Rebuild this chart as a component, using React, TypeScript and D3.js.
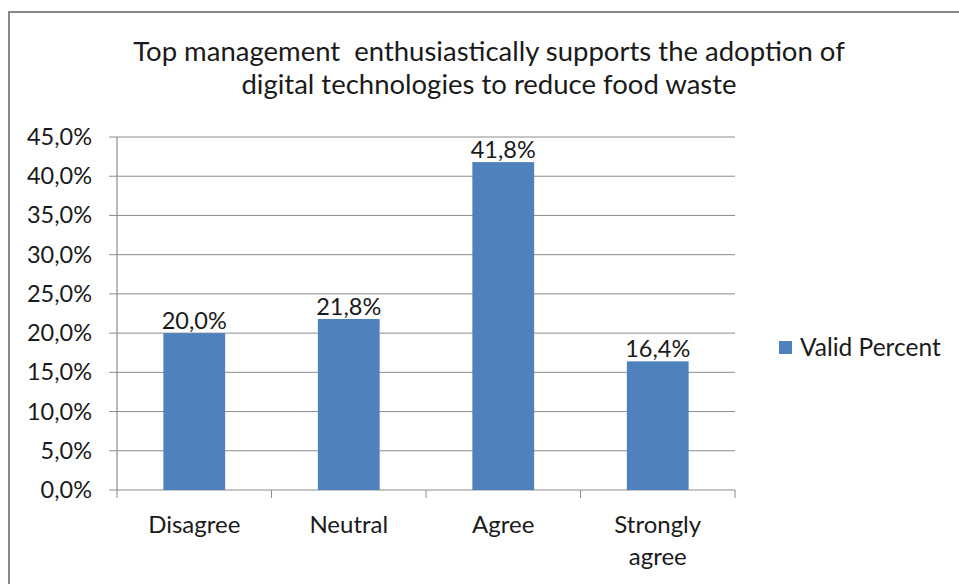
import React from "react";
import * as d3 from "d3";

const categories = ["Disagree", "Neutral", "Agree", "Strongly agree"];
const values = [20.0, 21.8, 41.8, 16.4];
const yTicks = [0, 5, 10, 15, 20, 25, 30, 35, 40, 45];
const titleLines = [
  "Top management  enthusiastically supports the adoption of",
  "digital technologies to reduce food waste",
];
const seriesName = "Valid Percent";

const W = 959;
const H = 584;
const FONT = "Lato, 'Open Sans', sans-serif";
const BAR = "#4F81BD";
const GRID = "#8c8c8c";
const TXT = "#1a1a1a";

const fmt = (v: number) => v.toFixed(1).replace(".", ",") + "%";

export default function App() {
  const x = d3.scaleBand<string>().domain(categories).range([117, 735]).paddingInner(0.6).paddingOuter(0.3);
  const xb = d3.scaleBand<string>().domain(categories).range([117, 735]);
  const y = d3.scaleLinear().domain([0, 45]).range([490, 137]);

  return (
    <svg width={W} height={H} style={{ position: "fixed", left: 0, top: 0, background: "#fff" }} fontFamily={FONT}>
      <rect x={9} y={12} width={W + 20} height={H + 20} fill="#fff" stroke="#888" strokeWidth={2} />
      {titleLines.map((t, i) => (
        <text key={i} x={489} y={61 + i * 33} textAnchor="middle" fontSize={27.5} fill={TXT} style={{ whiteSpace: "pre" }}>
          {t}
        </text>
      ))}
      {yTicks.map((t) => (
        <g key={t}>
          <line x1={109} x2={735} y1={y(t)} y2={y(t)} stroke={GRID} strokeWidth={1} />
          <text x={92} y={y(t) + 8} textAnchor="end" fontSize={23.5} fill={TXT}>
            {fmt(t)}
          </text>
        </g>
      ))}
      <line x1={117} x2={117} y1={y(45)} y2={y(0)} stroke={GRID} strokeWidth={1.2} />
      {categories.map((c, i) => (
        <line key={"t" + i} x1={(xb(c) as number) + xb.bandwidth()} x2={(xb(c) as number) + xb.bandwidth()} y1={y(0)} y2={y(0) + 8} stroke={GRID} />
      ))}
      <line x1={117} x2={117} y1={y(0)} y2={y(0) + 8} stroke={GRID} />
      {categories.map((c, i) => (
        <g key={c}>
          <rect x={x(c)} y={y(values[i])} width={x.bandwidth()} height={y(0) - y(values[i])} fill={BAR} />
          <text x={(x(c) as number) + x.bandwidth() / 2} y={y(values[i]) - 4} textAnchor="middle" fontSize={23.5} fill={TXT}>
            {fmt(values[i])}
          </text>
          {c === "Strongly agree"
            ? c.split(" ").map((w, j) => (
                <text key={j} x={(xb(c) as number) + xb.bandwidth() / 2} y={533 + j * 32} textAnchor="middle" fontSize={24} fill={TXT}>
                  {w}
                </text>
              ))
            : (
                <text x={(xb(c) as number) + xb.bandwidth() / 2} y={533} textAnchor="middle" fontSize={24} fill={TXT}>
                  {c}
                </text>
              )}
        </g>
      ))}
      <rect x={779} y={341} width={13} height={13} fill={BAR} />
      <text x={800} y={356} fontSize={24.5} fill={TXT}>
        {seriesName}
      </text>
    </svg>
  );
}
